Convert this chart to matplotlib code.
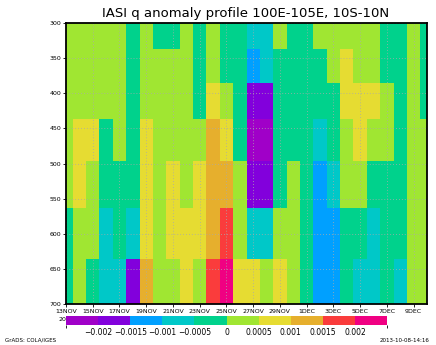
import matplotlib
matplotlib.use("Agg")
import matplotlib.pyplot as plt
import numpy as np
from matplotlib.colors import ListedColormap, BoundaryNorm

# layer edges (hPa), top to bottom
p_edges = [300, 337, 385, 437, 497, 564, 636, 700]

# q anomaly, units of 1e-4 kg/kg, one list per layer, days 13NOV..10DEC
lay_300_337 = [3, 3, 3, 3, 3, -2, 3, -2, -2, 3, -2, 3, -2, -2, -7, -7, 3, -2, -2, 3, 3, 3, 3, 3, -2, -2, 3, -2]
lay_337_385 = [3, 3, 3, 3, 3, -2, 3, 3, 3, 3, -2, 3, -2, -2, -12, -7, -2, -2, -2, -2, 3, 8, 3, 3, -2, -2, 3, -2]
lay_385_437 = [3, 3, 3, 3, 3, -2, 3, 3, 3, 3, -2, 8, 3, -2, -17, -17, -2, -2, -2, -2, -2, 8, 8, 8, 3, -2, 3, -2]
lay_437_497 = [3, 8, 8, -2, 3, -2, 8, 3, 3, 3, 3, 12, 8, -2, -23, -23, -2, -2, -2, -7, -2, 3, 8, 3, 3, -2, 3, 3]
lay_497_564 = [3, 8, 3, -2, -2, -2, 8, 3, 8, 3, 8, 12, 12, 3, -17, -17, -2, 3, -2, -12, -7, 3, 3, -2, -2, -2, 3, 3]
lay_564_636 = [-2, 3, 3, -7, -2, -7, 8, 3, 8, 8, 8, 12, 17, 3, -7, -7, 3, 3, -2, -12, -12, -2, -2, -7, -2, -2, 3, 3]
lay_636_700 = [-2, 3, -2, -7, -7, -17, 12, 3, 3, 8, 3, 17, 22, 8, 8, 3, 8, 3, -2, -12, -12, -2, -7, -7, -2, -7, 3, 3]

clevs = [-0.002, -0.0015, -0.001, -0.0005, 0, 0.0005, 0.001, 0.0015, 0.002]
clabels = ["\u22120.002", "\u22120.0015", "\u22120.001", "\u22120.0005", "0",
           "0.0005", "0.001", "0.0015", "0.002"]
gcolors = ["#a000c8", "#8200dc", "#00a0ff", "#00c8c8", "#00d28c",
           "#a0e632", "#e6dc32", "#e6af2d", "#fa3c3c", "#f00082"]

xticklabels = ["13NOV", "15NOV", "17NOV", "19NOV", "21NOV", "23NOV", "25NOV",
               "27NOV", "29NOV", "1DEC", "3DEC", "5DEC", "7DEC", "9DEC"]
yticks = [300, 350, 400, 450, 500, 550, 600, 650, 700]

q = np.array([lay_300_337, lay_337_385, lay_385_437, lay_437_497,
              lay_497_564, lay_564_636, lay_636_700]) * 1e-4
ndays = q.shape[1]
x_edges = np.arange(ndays + 1) - 0.5

bounds = [-0.0025] + clevs + [0.0025]
cmap = ListedColormap(gcolors)
norm = BoundaryNorm(bounds, cmap.N)

fig = plt.figure(figsize=(4.36, 3.45), dpi=100)
ax = fig.add_axes([66 / 436, 1 - 304 / 345, 361 / 436, 281 / 345])
mesh = ax.pcolormesh(x_edges, p_edges, q, cmap=cmap, norm=norm,
                     shading="flat", edgecolors="none", antialiased=False)
ax.set_xlim(0, ndays - 1)
ax.set_ylim(700, 300)

ax.set_xticks(np.arange(0, ndays - 1, 2))
ax.set_xticklabels(xticklabels, fontsize=4.5)
ax.set_yticks(yticks)
ax.set_yticklabels([str(v) for v in yticks], fontsize=4.5)
ax.tick_params(length=2.5, width=0.6, pad=1)
ax.grid(True, color="#aaaaaa", linestyle=(0, (1, 2.5)), linewidth=0.6)
for s in ax.spines.values():
    s.set_linewidth(1.3)
ax.text(0, -0.045, "2011", transform=ax.get_xaxis_transform(),
        fontsize=4.5, ha="center", va="top")

fig.text(246 / 436, 1 - 13 / 345, "IASI q anomaly profile 100E-105E, 10S-10N",
         fontsize=9.5, ha="center", va="center")

cax = fig.add_axes([66 / 436, 1 - 325 / 345, 321 / 436, 9 / 345])
cb = fig.colorbar(mesh, cax=cax, orientation="horizontal", ticks=clevs,
                  spacing="uniform")
cb.outline.set_visible(False)
cb.ax.set_xticklabels(clabels, fontsize=5.5)
cb.ax.tick_params(length=0, pad=2)

fig.text(5 / 436, 1 - 340 / 345, "GrADS: COLA/IGES", fontsize=4, ha="left", va="center")
fig.text(430 / 436, 1 - 340 / 345, "2013-10-08-14:16", fontsize=4, ha="right", va="center")

fig.savefig("out.png", dpi=100)
